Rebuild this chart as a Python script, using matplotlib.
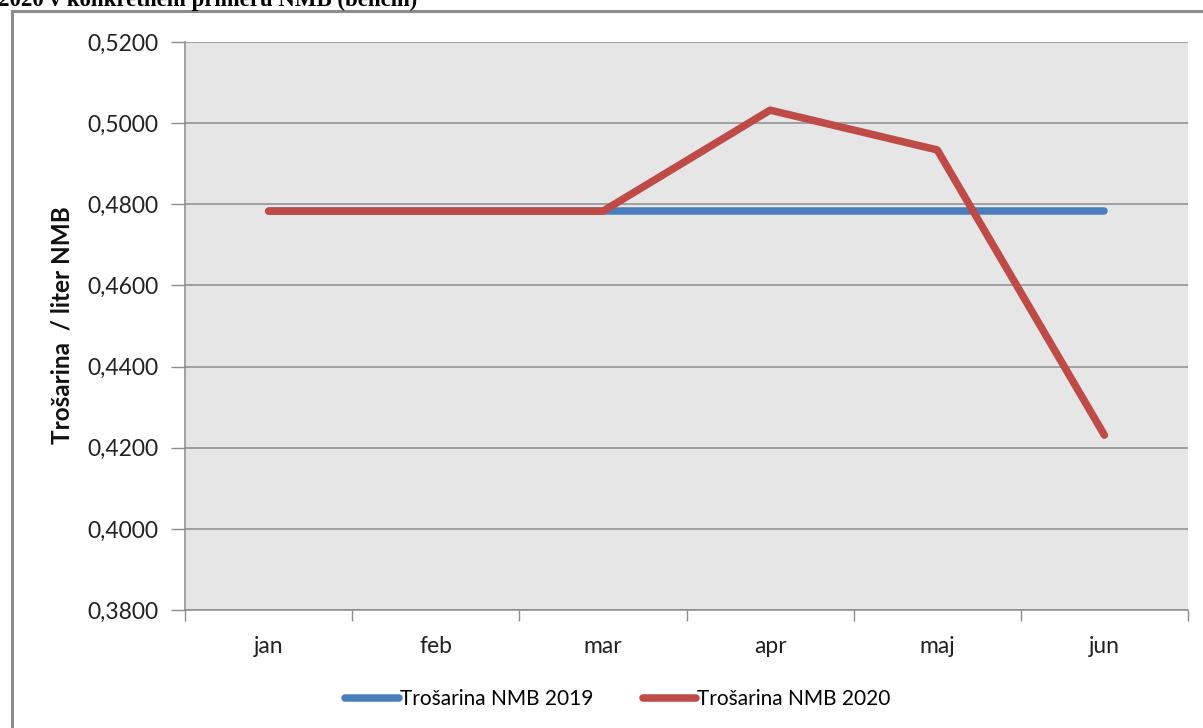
import numpy as np
import matplotlib as mpl
mpl.use('Agg')
import matplotlib.pyplot as plt
from matplotlib.lines import Line2D

months = ["jan", "feb", "mar", "apr", "maj", "jun"]
nmb_2019 = [0.4783, 0.4783, 0.4783, 0.4783, 0.4783, 0.4783]
nmb_2020 = [0.4783, 0.4783, 0.4783, 0.5032, 0.4934, 0.4231]
yticks = [0.38, 0.40, 0.42, 0.44, 0.46, 0.48, 0.50, 0.52]

plt.rcParams['font.family'] = ['Lato', 'DejaVu Sans']

W, H = 1203, 728
fig = plt.figure(figsize=(W / 100, H / 100), dpi=100)
ax = fig.add_axes([185 / W, 1 - 610 / H, (1188 - 185) / W, (610 - 42) / H])
ax.set_facecolor('#e6e6e6')

x = np.arange(len(months))
ax.plot(x, nmb_2019, color='#4a7ebb', lw=5.4, solid_capstyle='round',
        solid_joinstyle='round', label='Trošarina NMB 2019')
ax.plot(x, nmb_2020, color='#be4b48', lw=5.4, solid_capstyle='round',
        solid_joinstyle='round', label='Trošarina NMB 2020')

ax.set_xlim(-0.5, len(months) - 0.5)
ax.set_ylim(0.38, 0.52)
ax.set_yticks(yticks)
ax.set_yticklabels([("%.4f" % v).replace('.', ',') for v in yticks], fontsize=16.5, color='#222222')
ax.yaxis.grid(True, color='#8c8c8c', lw=1.1)
ax.set_axisbelow(True)

# category boundaries get the tick marks, labels sit in the middle
ax.set_xticks(np.arange(-0.5, len(months), 1.0))
ax.set_xticklabels([])
ax.set_xticks(x, minor=True)
ax.set_xticklabels(months, minor=True, fontsize=16.5, color='#222222')
ax.tick_params(axis='x', which='major', length=8, color='#8c8c8c', width=1)
ax.tick_params(axis='x', which='minor', length=0, pad=19)
ax.tick_params(axis='y', length=10, color='#8c8c8c', width=1, pad=9)

for s in ['top', 'right']:
    ax.spines[s].set_visible(False)
for s in ['left', 'bottom']:
    ax.spines[s].set_color('#8c8c8c')
    ax.spines[s].set_linewidth(1.1)

fig.text(62 / W, 1 - 325 / H, 'Trošarina  / liter NMB', rotation=90, ha='center', va='center',
         fontsize=17.5, fontweight='bold', color='#111111')

ax.legend(loc='center', bbox_to_anchor=(618 / W, 1 - 699 / H), bbox_transform=fig.transFigure,
          ncol=2, frameon=False, fontsize=15, handlelength=2.55, handletextpad=0.05,
          columnspacing=2.4)

# outer chart frame, cut off on the right and bottom
fig.add_artist(Line2D([12 / W, 12 / W], [1 - 11 / H, -0.01], color='#8c8c8c', lw=2.2,
                      transform=fig.transFigure))
fig.add_artist(Line2D([12 / W, 1.01], [1 - 11 / H, 1 - 11 / H], color='#8c8c8c', lw=2.2,
                      transform=fig.transFigure))

# caption from the document, cut at the top edge
fig.text(-0.002, 1 - 6 / H, '2020 v konkretnem primeru NMB (bencin)', ha='left', va='baseline',
         fontsize=16.5, fontweight='bold', family='Liberation Serif', color='black')

fig.savefig('out.png', dpi=100)
